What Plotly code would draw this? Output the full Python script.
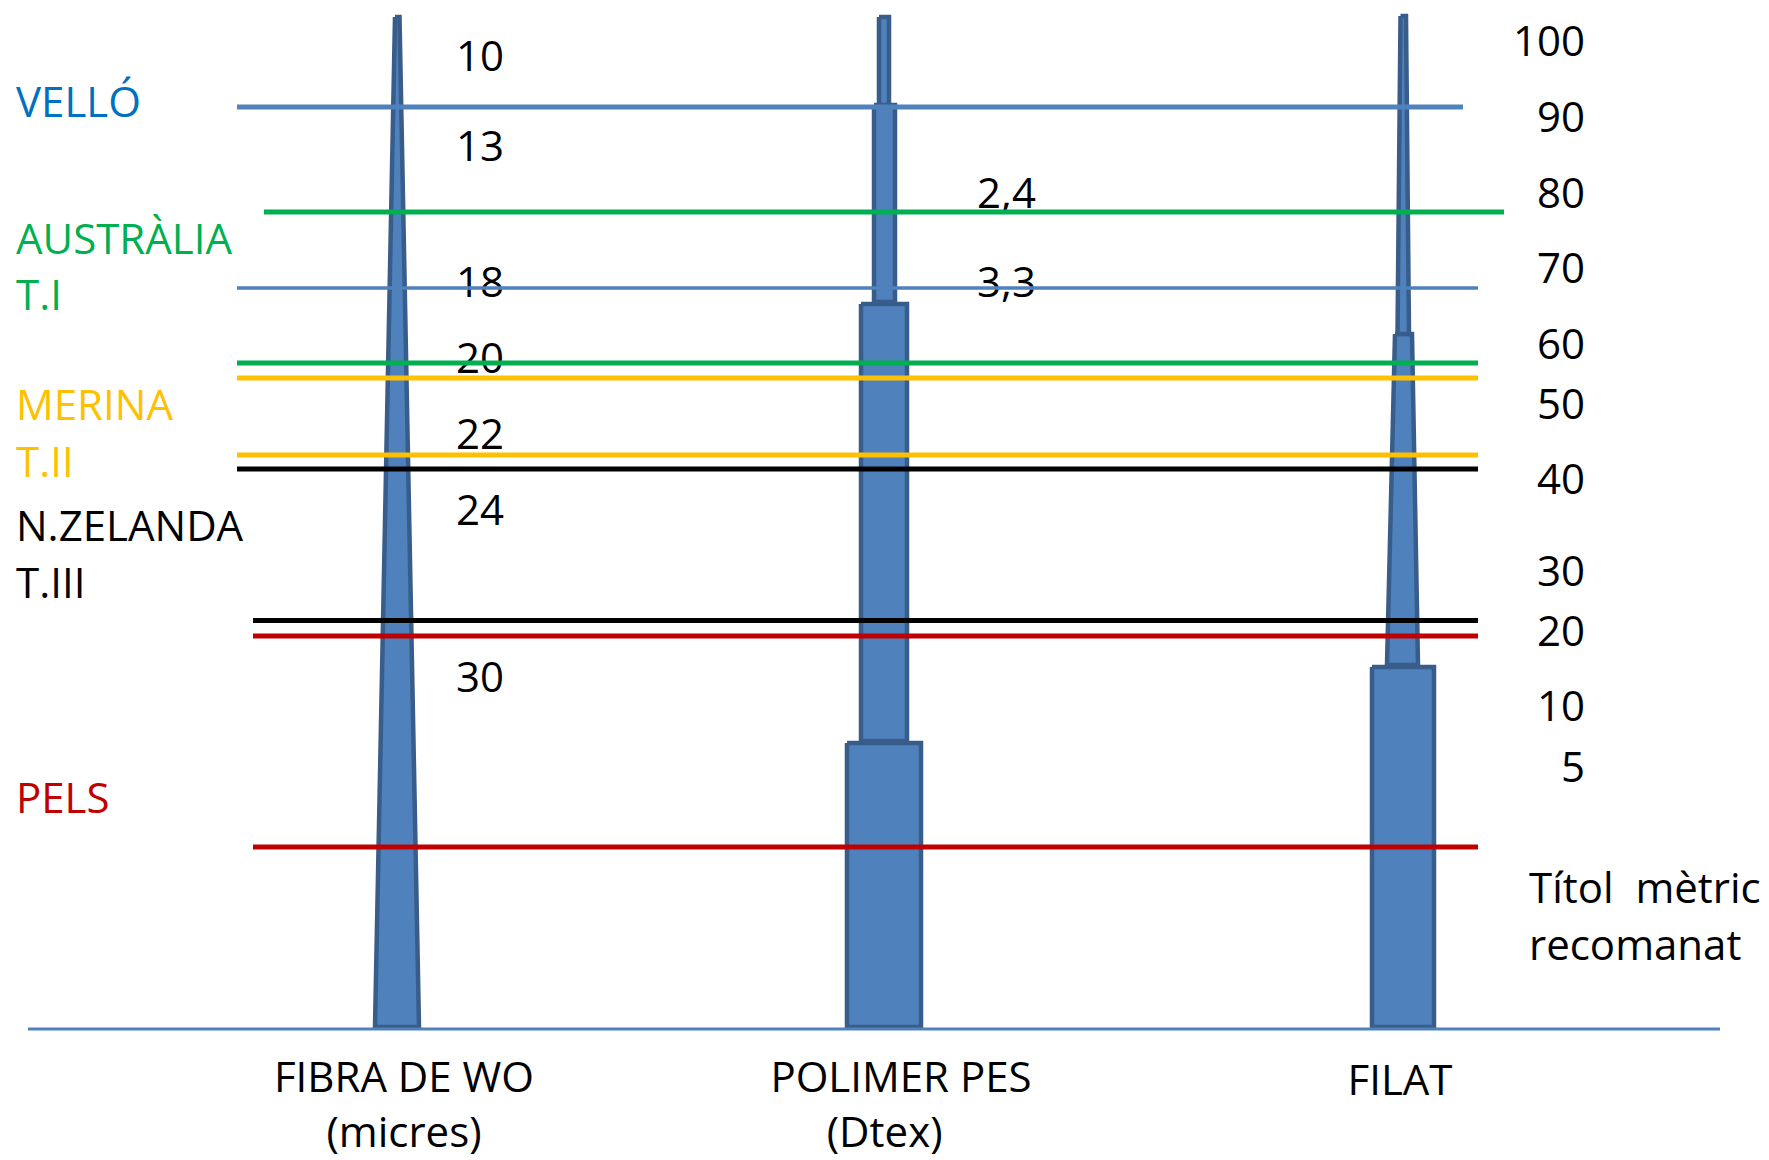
import plotly.graph_objects as go

W, H = 1769, 1160
FONT = "Open Sans"
FS = 42

# ---- horizontal level lines (wool class boundaries) ----
level_y = [107, 212, 288, 363, 378, 455, 469, 620.5, 636, 847]
level_x0 = [237, 264, 237, 237, 237, 237, 237, 253, 253, 253]
level_x1 = [1463, 1504, 1478, 1478, 1478, 1478, 1478, 1478, 1478, 1478]
level_colors = ["#4F81BD", "#00B050", "#4F81BD", "#00B050", "#FFC000",
                "#FFC000", "#000000", "#000000", "#C00000", "#C00000"]
level_widths = [5, 5, 3.5, 5, 5, 5, 5, 5, 5, 5]

# ---- left category labels ----
cat_labels = ["VELLÓ", "AUSTRÀLIA", "T.I", "MERINA", "T.II", "N.ZELANDA", "T.III", "PELS"]
cat_y = [106, 243, 299, 409, 466, 530, 587, 802]
cat_colors = ["#0070C0", "#00B050", "#00B050", "#FFC000", "#FFC000",
              "#000000", "#000000", "#C00000"]

# ---- fibre diameter (micres) labels ----
micron_labels = ["10", "13", "18", "20", "22", "24", "30"]
micron_y = [60, 150, 286, 362, 438, 514, 681]

# ---- polymer Dtex labels ----
dtex_labels = ["2,4", "3,3"]
dtex_y = [197, 286]

# ---- recommended metric count labels ----
metric_labels = ["100", "90", "80", "70", "60", "50", "40", "30", "20", "10", "5"]
metric_y = [45.5, 121, 197.5, 272, 348, 408, 483, 575, 635, 710, 771]

# ---- column categories (name + unit) ----
col_labels = ["FIBRA DE WO<br>(micres)", "POLIMER PES<br>(Dtex)\u00a0\u00a0\u00a0", "FILAT"]
col_x = [404, 901, 1400]
col_y = [1109, 1109, 1084]

# ---- column glyph outlines (segments) ----
fibra_segments = [
    ([395, 399.5, 419, 375], [17, 17, 1027, 1027]),
]
pes_segments = [
    ([847, 921, 921, 847], [743, 743, 1027, 1027]),
    ([861, 907, 907, 861], [304, 304, 741, 741]),
    ([874, 895, 895, 874], [105, 105, 302, 302]),
    ([879, 889, 889, 879], [17, 17, 105, 105]),
]
filat_segments = [
    ([1372, 1434, 1434, 1372], [667, 667, 1027, 1027]),
    ([1395, 1412, 1418, 1387], [334, 334, 665, 665]),
    ([1400.5, 1406, 1409, 1397.5], [16, 16, 334, 334]),
]

FILL = "#4F81BD"
EDGE = "#385D8A"

fig = go.Figure()

for segs in (fibra_segments, pes_segments, filat_segments):
    for xs, ys in segs:
        fig.add_trace(go.Scatter(
            x=xs + [xs[0]], y=ys + [ys[0]], mode="lines", fill="toself",
            fillcolor=FILL, line=dict(color=EDGE, width=4.5),
            hoverinfo="skip", showlegend=False))

# text traces (drawn below the level lines)
def add_text(xs, ys, texts, pos, colors="#000000"):
    fig.add_trace(go.Scatter(
        x=xs, y=ys, text=texts, mode="text", textposition=pos,
        textfont=dict(family=FONT, size=FS, color=colors),
        cliponaxis=False, hoverinfo="skip", showlegend=False))

add_text([16] * len(cat_labels), cat_y, cat_labels, "middle right", cat_colors)
add_text([456] * len(micron_labels), micron_y, micron_labels, "middle right")
add_text([977] * len(dtex_labels), dtex_y, dtex_labels, "middle right")
add_text([1585] * len(metric_labels), metric_y, metric_labels, "middle left")
add_text([1529, 1529], [892, 949], ["Títol\u00a0 mètric", "recomanat"], "middle right")
add_text(col_x, col_y, col_labels, "middle center")

for y, x0, x1, c, w in zip(level_y, level_x0, level_x1, level_colors, level_widths):
    fig.add_trace(go.Scatter(
        x=[x0, x1], y=[y, y], mode="lines", line=dict(color=c, width=w),
        hoverinfo="skip", showlegend=False))

# baseline
fig.add_trace(go.Scatter(
    x=[28, 1720], y=[1029, 1029], mode="lines",
    line=dict(color="#4F81BD", width=3), hoverinfo="skip", showlegend=False))

fig.update_layout(
    width=W, height=H, autosize=False,
    margin=dict(l=0, r=0, t=0, b=0),
    paper_bgcolor="white", plot_bgcolor="white",
    xaxis=dict(range=[0, W], visible=False, fixedrange=True),
    yaxis=dict(range=[H, 0], visible=False, fixedrange=True),
)

fig.write_html("out.html", post_script="document.body.style.margin='0';document.body.style.overflow='hidden';",
               config={"displayModeBar": False})
